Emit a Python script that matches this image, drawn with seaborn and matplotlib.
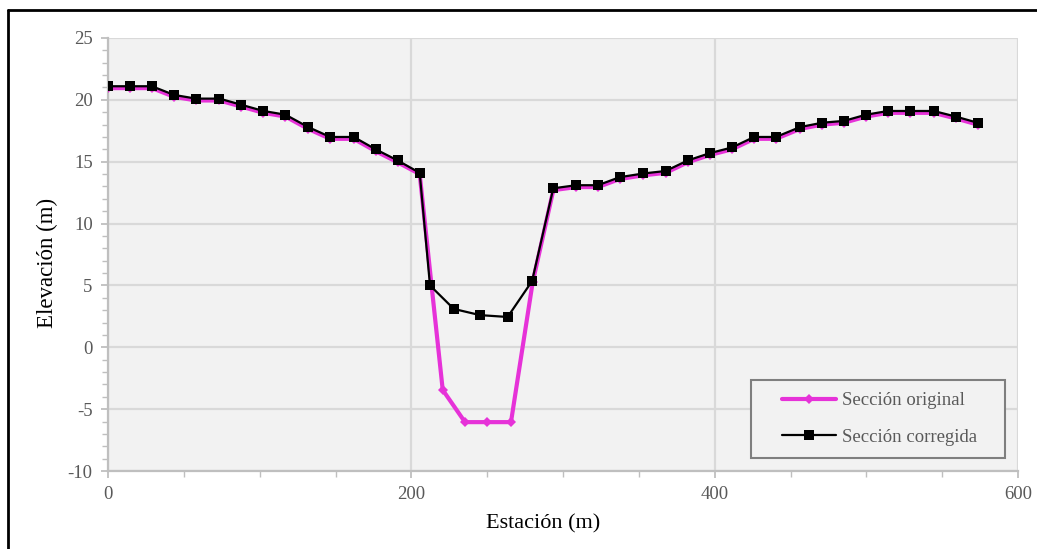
import matplotlib
matplotlib.use("Agg")
import matplotlib.pyplot as plt
import seaborn as sns
import pandas as pd
from matplotlib.lines import Line2D
from matplotlib.patches import Rectangle
from matplotlib.ticker import MultipleLocator

# ---- data ----
est_corr = [0, 14.5, 29, 43.5, 58, 73.5, 88, 102.5, 117, 132, 146.5, 162, 176.5, 191, 205.5,
            212.3, 228, 245.3, 263.5, 279.6,
            293.6, 308.6, 323, 337.4, 353, 367.7, 382.2, 397, 411.4, 426, 440.4, 456.3,
            470.8, 485.3, 499.8, 514.3, 528.8, 544.4, 558.9, 573.4]
elev_corr = [21.1, 21.1, 21.1, 20.4, 20.1, 20.1, 19.6, 19.1, 18.8, 17.8, 17.0, 17.0, 16.0, 15.1, 14.1,
             5.0, 3.1, 2.6, 2.45, 5.35,
             12.85, 13.1, 13.1, 13.75, 14.05, 14.25, 15.1, 15.7, 16.15, 17.0, 17.0, 17.8,
             18.15, 18.3, 18.8, 19.1, 19.1, 19.1, 18.65, 18.15]

est_orig = [0, 14.5, 29, 43.5, 58, 73.5, 88, 102.5, 117, 132, 146.5, 162, 176.5, 191, 205.5,
            220.7, 235.4, 249.7, 265.7, 280.0,
            293.6, 308.6, 323, 337.4, 353, 367.7, 382.2, 397, 411.4, 426, 440.4, 456.3,
            470.8, 485.3, 499.8, 514.3, 528.8, 544.4, 558.9, 573.4]
elev_orig = [20.95, 20.95, 20.95, 20.25, 19.95, 19.95, 19.45, 18.95, 18.65, 17.65, 16.85, 16.85, 15.85, 14.95, 14.0,
             -3.45, -6.05, -6.05, -6.05, 5.25,
             12.7, 12.95, 12.95, 13.6, 13.9, 14.1, 14.95, 15.55, 16.0, 16.85, 16.85, 17.65,
             18.0, 18.15, 18.65, 18.95, 18.95, 18.95, 18.5, 18.0]

labels = ["Sección original", "Sección corregida"]
x_ticks = [0, 200, 400, 600]
y_ticks = [-10, -5, 0, 5, 10, 15, 20, 25]

PINK = "#E632D8"
GRID = "#D9D9D9"
AXC = "#BFBFBF"
TXT = "#595959"

sns.set_theme(style="white")
plt.rcParams["font.family"] = ["Liberation Serif", "DejaVu Serif"]
plt.rcParams["axes.unicode_minus"] = False

df_o = pd.DataFrame({"x": est_orig, "y": elev_orig})
df_c = pd.DataFrame({"x": est_corr, "y": elev_corr})

W, H = 1037, 549
fig = plt.figure(figsize=(W / 100, H / 100), dpi=100)
fig.patch.set_facecolor("white")
ax = fig.add_axes([108 / W, 1 - 471 / H, 910 / W, 433 / H])
ax.set_facecolor("#F2F2F2")

sns.lineplot(data=df_o, x="x", y="y", ax=ax, color=PINK, lw=3.0, marker="D",
             markersize=5.5, markeredgewidth=0, estimator=None, sort=False, zorder=3)
sns.lineplot(data=df_c, x="x", y="y", ax=ax, color="black", lw=1.6, marker="s",
             markersize=6.5, markeredgewidth=0, estimator=None, sort=False, zorder=4)

ax.set_xlim(0, 600)
ax.set_ylim(-10, 25)
ax.set_xticks(x_ticks)
ax.set_yticks(y_ticks)
ax.xaxis.set_minor_locator(MultipleLocator(50))
ax.yaxis.set_minor_locator(MultipleLocator(1))
ax.grid(True, which="major", color=GRID, lw=1.6, zorder=0)
ax.set_axisbelow(True)

for s in ["top", "right"]:
    ax.spines[s].set_visible(False)
for s in ["left", "bottom"]:
    ax.spines[s].set_color(AXC)
    ax.spines[s].set_linewidth(1.6)

ax.tick_params(axis="both", which="major", direction="out", length=5, width=1.3,
               color=AXC, labelcolor=TXT, labelsize=13.5, left=True, bottom=True)
ax.tick_params(axis="both", which="minor", direction="out", length=4, width=1.0,
               color=AXC, left=True, bottom=True)
ax.tick_params(axis="x", which="major", pad=6)
ax.tick_params(axis="y", which="major", pad=6)

ax.set_xlabel("Estación (m)", fontsize=16, color="black")
ax.set_ylabel("Elevación (m)", fontsize=16.5, color="black")
ax.xaxis.set_label_coords(0.478, -0.1)
ax.yaxis.set_label_coords(-0.055, 0.48)

# legend frame (drawn inside the axes, below the legend)
frame = Rectangle((751 / W, 1 - 458 / H), 254 / W, 78 / H, transform=fig.transFigure,
                  facecolor="#F2F2F2", edgecolor="#7F7F7F", lw=1.5, zorder=5, clip_on=False)
ax.add_artist(frame)
handles = [Line2D([0], [0], color=PINK, lw=3.0, marker="D", markersize=5.5, markeredgewidth=0),
           Line2D([0], [0], color="black", lw=1.6, marker="s", markersize=6.5, markeredgewidth=0)]
leg = ax.legend(handles, labels, loc="center left",
                bbox_to_anchor=(782 / W, 1 - 419 / H), bbox_transform=fig.transFigure,
                fontsize=13.5, frameon=False, handlelength=2.9,
                labelspacing=1.05, borderpad=0, handletextpad=0.3, borderaxespad=0)
leg.set_zorder(7)
for t in leg.get_texts():
    t.set_color(TXT)

# figure border (left and top)
fig.add_artist(Line2D([7.5 / W, 7.5 / W], [0, 1 - 9.5 / H], transform=fig.transFigure,
                      color="black", lw=2))
fig.add_artist(Line2D([7.5 / W, 1], [1 - 9.5 / H, 1 - 9.5 / H], transform=fig.transFigure,
                      color="black", lw=2))

fig.savefig("out.png", dpi=100)
